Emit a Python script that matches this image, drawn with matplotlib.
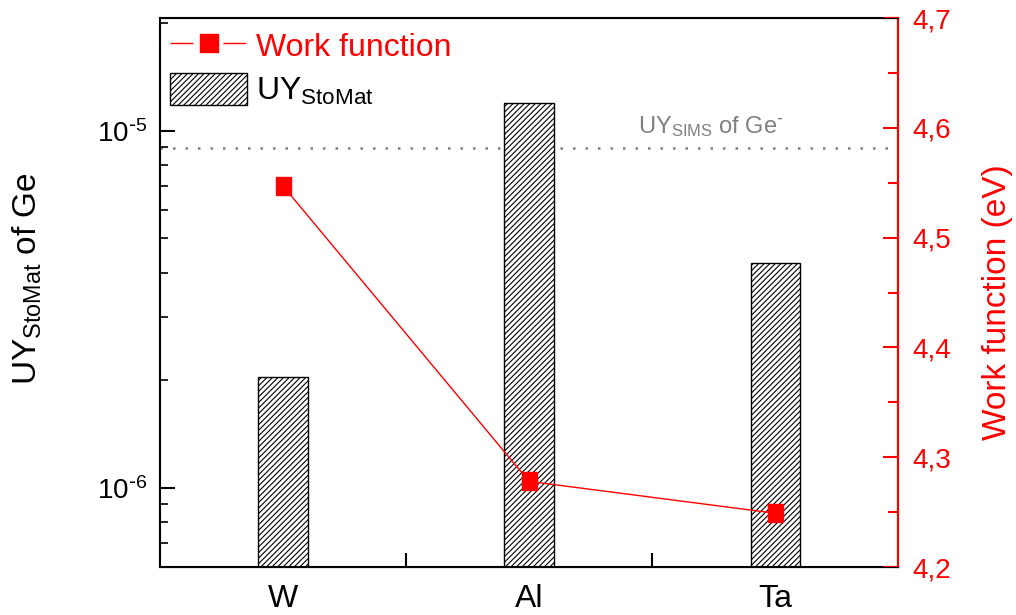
import matplotlib
matplotlib.use("Agg")
import matplotlib.pyplot as plt
from matplotlib.ticker import LogLocator, FixedLocator, FuncFormatter
from matplotlib.lines import Line2D
from matplotlib.patches import Patch
import numpy as np

plt.rcParams['font.family'] = ['Liberation Sans', 'DejaVu Sans']
plt.rcParams['mathtext.default'] = 'regular'
plt.rcParams['hatch.linewidth'] = 0.8

# data
metals = ["W", "Al", "Ta"]
uy_stomat = [2.05e-6, 1.2e-5, 4.27e-6]
work_function = [4.547, 4.278, 4.249]
uy_sims = 8.96e-6
wf_ticks = [4.2, 4.3, 4.4, 4.5, 4.6, 4.7]
wf_ticklabels = ["4,2", "4,3", "4,4", "4,5", "4,6", "4,7"]


def log_label(v, pos):
    # hyphen-style exponent like the original plot
    e = int(round(np.log10(v)))
    sign = r"\text{-}" if e < 0 else ""
    return r"$10^{%s%d}$" % (sign, abs(e))


fig = plt.figure(figsize=(10.16, 6.15), dpi=100)
ax = fig.add_axes([0.1575, 0.078, 0.7265, 0.8927])
x = list(range(len(metals)))

ax.bar(x, uy_stomat, width=0.2, color="white", edgecolor="black",
       hatch="//////", linewidth=1.0, zorder=2)
ax.axhline(uy_sims, color="gray", linestyle=(0, (1, 4)), linewidth=1.8, zorder=1)
ax.text(1.74, uy_sims * 1.1, r"UY$_{SIMS}$ of Ge$^{\text{-}}$", color="gray",
        fontsize=17, ha="center", va="baseline", zorder=3)

ax.set_yscale("log")
ax.set_ylim(6.0e-7, 2.07e-5)
ax.set_xlim(-0.5, 2.5)
ax.yaxis.set_major_locator(LogLocator(base=10))
ax.yaxis.set_major_formatter(FuncFormatter(log_label))
ax.yaxis.set_minor_locator(LogLocator(base=10, subs=range(2, 10)))
ax.yaxis.set_minor_formatter(plt.NullFormatter())
ax.set_xticks(x)
ax.set_xticklabels(metals, fontsize=23)
ax.xaxis.set_minor_locator(FixedLocator([0.5, 1.5]))
ax.tick_params(axis="x", which="both", direction="in", length=10, width=1.5, pad=12)
ax.tick_params(axis="y", which="major", direction="in", length=11, width=1.5,
               labelsize=20, pad=9)
ax.tick_params(axis="y", which="minor", direction="in", length=6, width=1.2)
ax.set_ylabel(r"UY$_{StoMat}$ of Ge", fontsize=24)
ax.yaxis.set_label_coords(-0.157, 0.526)
for s in ax.spines.values():
    s.set_linewidth(1.5)

# taller-than-wide square markers as in the reference
rect = [(-0.8, -1), (0.8, -1), (0.8, 1), (-0.8, 1), (-0.8, -1)]
ax2 = ax.twinx()
ax2.plot(x, work_function, color="red", linewidth=1.0, marker=rect,
         markersize=13.5, zorder=3)
ax2.set_ylim(4.2, 4.7)
ax2.set_yticks(wf_ticks)
ax2.set_yticklabels(wf_ticklabels)
ax2.yaxis.set_minor_locator(FixedLocator([4.25, 4.35, 4.45, 4.55, 4.65]))
ax2.tick_params(axis="y", which="both", direction="in", colors="red",
                width=1.5, labelsize=20, pad=10)
ax2.tick_params(axis="y", which="major", length=11)
ax2.tick_params(axis="y", which="minor", length=7)
ax2.set_ylabel("Work function (eV)", color="red", fontsize=24)
ax2.yaxis.set_label_coords(1.114, 0.483)
ax2.spines["right"].set_color("red")
ax2.spines["right"].set_linewidth(1.5)
ax2.spines["left"].set_visible(False)

# legend: line with gaps around the marker, hatched box
wf_line = Line2D([], [], color="red", linewidth=1.0, dashes=(16.5, 21.6))
wf_mark = Line2D([], [], color="red", linestyle="none", marker="s", markersize=13.5)
uy_patch = Patch(facecolor="white", edgecolor="black", hatch="//////")
leg = ax2.legend([(wf_line, wf_mark), uy_patch],
                 ["Work function", r"UY$_{StoMat}$"],
                 loc="upper left", frameon=False, fontsize=23,
                 handlelength=2.4, handleheight=1.2, handletextpad=0.3,
                 borderaxespad=0.15, labelspacing=0.3,
                 bbox_to_anchor=(-0.01, 1.012))
leg.get_texts()[0].set_color("red")

fig.savefig("out.png", dpi=100)
